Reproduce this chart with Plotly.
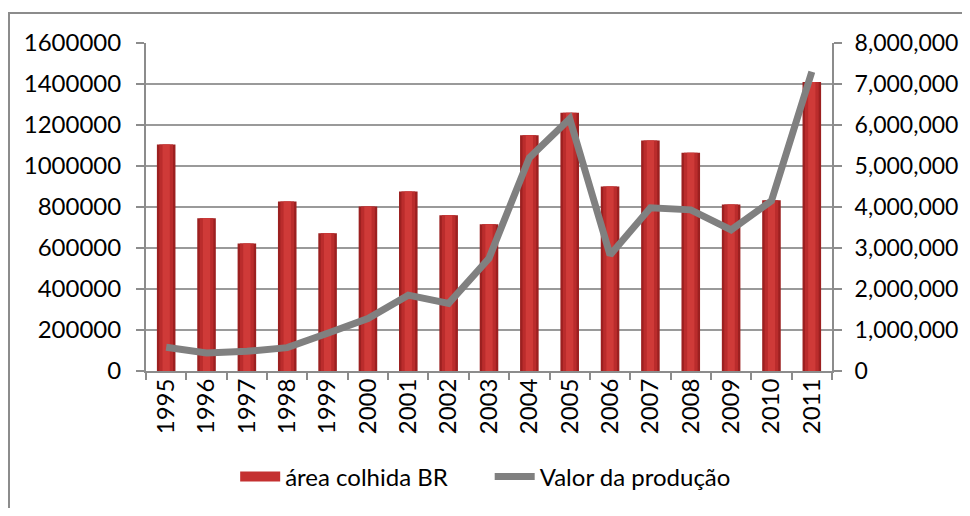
import plotly.graph_objects as go

years = ["1995", "1996", "1997", "1998", "1999", "2000", "2001", "2002", "2003",
         "2004", "2005", "2006", "2007", "2008", "2009", "2010", "2011"]
area_colhida = [1105000, 745000, 622000, 827000, 672000, 803000, 876000, 760000, 716000,
                1150000, 1260000, 900000, 1125000, 1065000, 812000, 833000, 1410000]
valor_producao = [580000, 440000, 480000, 570000, 920000, 1280000, 1850000, 1650000, 2750000,
                  5200000, 6150000, 2830000, 3980000, 3930000, 3440000, 4150000, 7300000]

FONT = "Lato"
FS = 24
fig = go.Figure()

# bar body (layered for a cylinder-like shading)
fig.add_trace(go.Bar(x=years, y=area_colhida, name="área colhida BR", width=0.46, showlegend=False,
                     marker=dict(color="#9C2020", line=dict(width=0)), yaxis="y"))
fig.add_trace(go.Bar(x=years, y=area_colhida, width=0.34, showlegend=False, hoverinfo="skip",
                     marker=dict(color="#BA2C2C", line=dict(width=0)), yaxis="y"))
fig.add_trace(go.Bar(x=years, y=area_colhida, width=0.18, showlegend=False, hoverinfo="skip",
                     marker=dict(color="#CF3A38", line=dict(width=0)), yaxis="y"))

# legend entry for the bars (wide red swatch)
fig.add_trace(go.Scatter(x=[None], y=[None], mode="lines", name="área colhida BR      ",
                         line=dict(color="#C43030", width=12), yaxis="y"))

fig.add_trace(go.Scatter(x=years, y=valor_producao, name="Valor da produção", mode="lines",
                         line=dict(color="#808080", width=7), yaxis="y2"))

axis_gray = "#8C8C8C"
fig.update_layout(
    width=954, height=500,
    margin=dict(l=138, r=130, t=35, b=137, autoexpand=False),
    paper_bgcolor="white", plot_bgcolor="white",
    barmode="overlay",
    font=dict(family=FONT, size=FS, color="black"),
    showlegend=True,
    legend=dict(orientation="h", x=0.13, y=-0.323, xanchor="left", yanchor="middle",
                font=dict(family=FONT, size=FS, color="black"), itemwidth=40,
                bgcolor="rgba(0,0,0,0)", tracegroupgap=0),
    xaxis=dict(type="category", tickangle=-90, showgrid=False, showline=True,
               linecolor=axis_gray, linewidth=2, ticks="outside", tickson="boundaries",
               ticklen=7, tickcolor=axis_gray, tickwidth=2, ticklabelstandoff=-4,
               automargin=False, tickfont=dict(family=FONT, size=FS)),
    yaxis=dict(range=[0, 1600000], dtick=200000, tickformat="d", showgrid=True,
               gridcolor="#9A9A9A", gridwidth=2, showline=True, linecolor=axis_gray,
               linewidth=2, ticks="outside", ticklen=8, tickcolor=axis_gray, tickwidth=2,
               ticklabelstandoff=10, zeroline=False, automargin=False,
               tickfont=dict(family=FONT, size=FS)),
    yaxis2=dict(range=[0, 8000000], dtick=1000000, tickformat=",", overlaying="y",
                side="right", showgrid=False, showline=True, linecolor=axis_gray,
                linewidth=2, ticks="outside", ticklen=8, tickcolor=axis_gray, tickwidth=2,
                ticklabelstandoff=8, zeroline=False, automargin=False,
                tickfont=dict(family=FONT, size=23)),
)

# outer chart border
fig.add_shape(type="rect", xref="paper", yref="paper",
              x0=-0.1997, x1=1.2085, y0=-0.454, y1=1.0915,
              line=dict(color="#8C8C8C", width=2), fillcolor="rgba(0,0,0,0)", layer="below")

fig.write_html("out.html")
